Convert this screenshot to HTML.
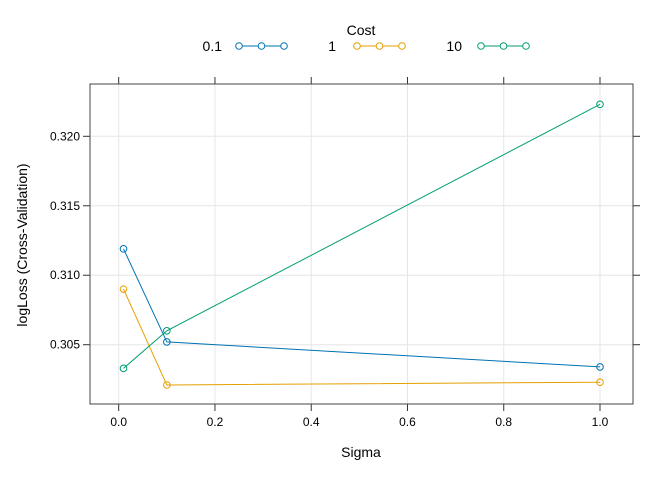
<!DOCTYPE html>
<html><head><meta charset="utf-8"><style>
body{margin:0;background:#fff}
svg{font-family:"Liberation Sans",Arial,sans-serif}
</style></head><body>
<svg id="c" width="672" height="480" viewBox="0 0 672 480"></svg>
<script>
const sigma=[0.01,0.1,1.0];
const costLabels=["0.1","1","10"];
const seriesCost01=[0.3119,0.3052,0.3034];
const seriesCost1=[0.3090,0.3021,0.3023];
const seriesCost10=[0.3033,0.3060,0.3223];
const xTicks=[0,0.2,0.4,0.6,0.8,1.0];
const xTickLabels=["0.0","0.2","0.4","0.6","0.8","1.0"];
const yTicks=[0.305,0.310,0.315,0.320];
const yTickLabels=["0.305","0.310","0.315","0.320"];
const colors=["#0072B2","#E69F00","#009E73"];
const L=90,R=633,T=84,B=404;
const X=v=>118.7+v*481.3;
const Y=v=>344.7-(v-0.305)*13893;
const svg=document.getElementById('c');
const NS="http://www.w3.org/2000/svg";
function mk(t,a,p){const e=document.createElementNS(NS,t);for(const k in a)e.setAttribute(k,a[k]);(p||svg).appendChild(e);return e;}
xTicks.forEach(v=>{const e=mk('line',{x1:X(v),x2:X(v),y1:T,y2:B,stroke:'#e6e6e6'});});
yTicks.forEach(v=>{const e=mk('line',{x1:L,x2:R,y1:Y(v),y2:Y(v),stroke:'#e6e6e6'});});
xTicks.forEach((v,i)=>{
 mk('line',{x1:X(v),x2:X(v),y1:B,y2:B+7,stroke:'#333'});
 mk('line',{x1:X(v),x2:X(v),y1:T,y2:T-7,stroke:'#333'});
 const t=mk('text',{x:X(v),y:B+22,'text-anchor':'middle','font-size':12,fill:'#000'});t.textContent=xTickLabels[i];
 
});
yTicks.forEach((v,i)=>{
 mk('line',{x1:L,x2:L-7,y1:Y(v),y2:Y(v),stroke:'#333'});
 mk('line',{x1:R,x2:R+7,y1:Y(v),y2:Y(v),stroke:'#333'});
 const t=mk('text',{x:L-10,y:Y(v)+4,'text-anchor':'end','font-size':12,fill:'#000'});t.textContent=yTickLabels[i];
 
});
const box=mk('rect',{x:L,y:T,width:R-L,height:B-T,fill:'none',stroke:'#444'});

const all=[seriesCost01,seriesCost1,seriesCost10];
all.forEach((s,k)=>{
 const g=mk('g',{});
 
 mk('polyline',{points:s.map((v,i)=>X(sigma[i])+','+Y(v)).join(' '),fill:'none',stroke:colors[k],'stroke-width':1},g);
 s.forEach((v,i)=>{const c=mk('circle',{cx:X(sigma[i]),cy:Y(v),r:3.3,fill:'none',stroke:colors[k],'stroke-width':1},g);
  });
});
const lt=mk('text',{x:361,y:35,'text-anchor':'middle','font-size':14});lt.textContent='Cost';

const lx=[[222,236],[336,354],[462,478]];
costLabels.forEach((lab,k)=>{
 const g=mk('g',{});
 const t=mk('text',{x:lx[k][0],y:51,'text-anchor':'end','font-size':14},g);t.textContent=lab;
 const x0=lx[k][1]+3;
 mk('line',{x1:x0,x2:x0+45,y1:46,y2:46,stroke:colors[k]},g);
 [0,22.5,45].forEach(d=>mk('circle',{cx:x0+d,cy:46,r:3.3,fill:'#fff',stroke:colors[k]},g));
});
const xt=mk('text',{x:361,y:457,'text-anchor':'middle','font-size':14});xt.textContent='Sigma';

const yt=mk('text',{x:0,y:0,'text-anchor':'middle','font-size':14,transform:'translate(27,245) rotate(-90)'});yt.textContent='logLoss (Cross-Validation)';

</script>
</body></html>
